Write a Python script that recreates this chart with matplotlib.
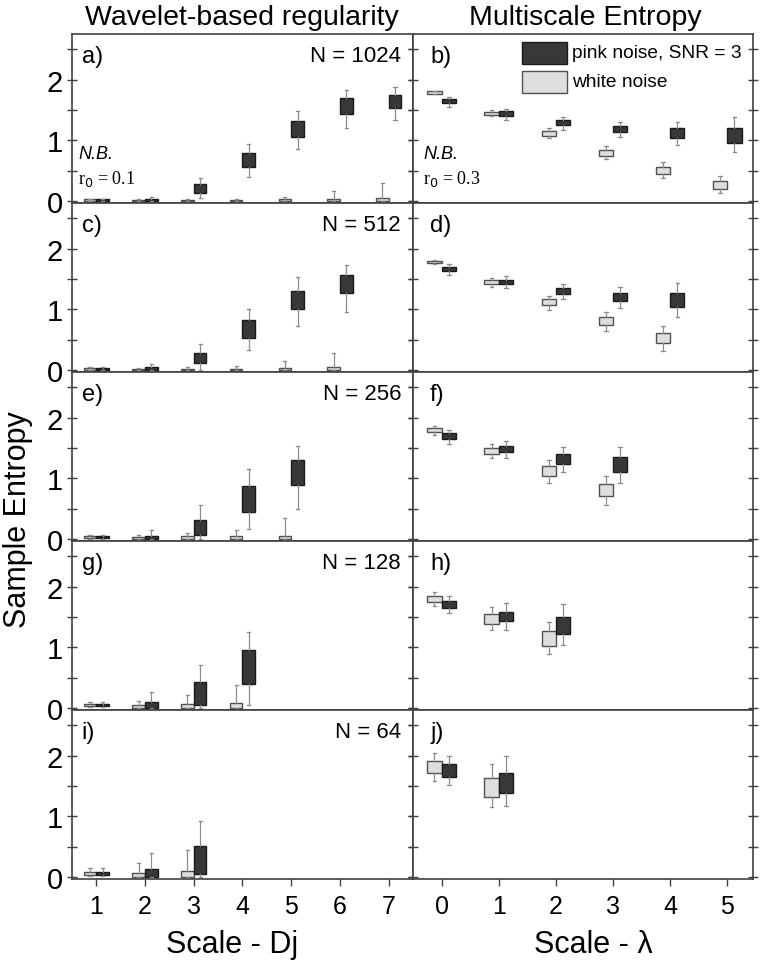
import matplotlib.pyplot as plt
from matplotlib.patches import Rectangle
from matplotlib.ticker import MultipleLocator

plt.rcParams['font.family'] = ['Liberation Sans', 'DejaVu Sans']

# skale
dj_scales = [1, 2, 3, 4, 5, 6, 7]
lam_scales = [0, 1, 2, 3, 4, 5]
n_labels = ['N = 1024', 'N = 512', 'N = 256', 'N = 128', 'N = 64']

# kazdy wiersz: [whislo, q1, q3, whishi]
wav_white_1024 = [[0.0, 0.01, 0.03, 0.04], [0.0, 0.005, 0.02, 0.03], [0.0, 0.005, 0.025, 0.035],
                  [0.0, 0.005, 0.025, 0.04], [0.0, 0.005, 0.03, 0.07], [0.0, 0.005, 0.03, 0.165],
                  [0.0, 0.005, 0.05, 0.30]]
wav_pink_1024 = [[0.0, 0.01, 0.03, 0.04], [0.0, 0.01, 0.03, 0.066], [0.055, 0.127, 0.275, 0.386],
                 [0.40, 0.567, 0.788, 0.937], [0.865, 1.06, 1.32, 1.49], [1.21, 1.43, 1.69, 1.83],
                 [1.33, 1.53, 1.75, 1.87]]
wav_white_512 = [[0.0, 0.01, 0.035, 0.045], [0.0, 0.005, 0.02, 0.03], [0.0, 0.005, 0.025, 0.045],
                 [0.0, 0.005, 0.025, 0.066], [0.0, 0.005, 0.04, 0.155], [0.0, 0.005, 0.045, 0.29]]
wav_pink_512 = [[0.0, 0.01, 0.035, 0.045], [0.0, 0.01, 0.045, 0.10], [0.01, 0.11, 0.287, 0.425],
                [0.33, 0.525, 0.82, 1.01], [0.73, 1.01, 1.31, 1.54], [0.955, 1.27, 1.57, 1.73]]
wav_white_256 = [[0.01, 0.02, 0.05, 0.065], [0.0, 0.005, 0.04, 0.07], [0.0, 0.005, 0.045, 0.10],
                 [0.0, 0.005, 0.05, 0.155], [0.0, 0.005, 0.06, 0.35]]
wav_pink_256 = [[0.01, 0.02, 0.05, 0.065], [0.0, 0.005, 0.06, 0.155], [0.0, 0.07, 0.32, 0.56],
                [0.165, 0.44, 0.87, 1.15], [0.49, 0.89, 1.30, 1.54]]
wav_white_128 = [[0.02, 0.03, 0.07, 0.10], [0.0, 0.005, 0.055, 0.115], [0.0, 0.005, 0.065, 0.21],
                 [0.0, 0.005, 0.085, 0.38]]
wav_pink_128 = [[0.02, 0.03, 0.065, 0.10], [0.0, 0.005, 0.095, 0.265], [0.0, 0.06, 0.425, 0.71],
                [0.055, 0.39, 0.95, 1.26]]
wav_white_64 = [[0.02, 0.035, 0.09, 0.15], [0.0, 0.005, 0.07, 0.24], [0.0, 0.005, 0.095, 0.445]]
wav_pink_64 = [[0.02, 0.04, 0.09, 0.15], [0.0, 0.005, 0.13, 0.39], [0.0, 0.045, 0.51, 0.93]]

mse_white_1024 = [[1.76, 1.77, 1.81, 1.82], [1.40, 1.41, 1.47, 1.50], [1.035, 1.07, 1.15, 1.20],
                  [0.69, 0.75, 0.85, 0.91], [0.377, 0.45, 0.565, 0.65], [0.127, 0.20, 0.33, 0.415]]
mse_pink_1024 = [[1.55, 1.61, 1.68, 1.71], [1.335, 1.40, 1.48, 1.51], [1.175, 1.25, 1.335, 1.38],
                 [1.06, 1.135, 1.235, 1.31], [0.925, 1.04, 1.20, 1.30], [0.81, 0.96, 1.21, 1.39]]
mse_white_512 = [[1.74, 1.76, 1.80, 1.82], [1.37, 1.41, 1.48, 1.52], [0.995, 1.066, 1.165, 1.225],
                 [0.643, 0.742, 0.874, 0.956], [0.313, 0.44, 0.604, 0.72]]
mse_pink_512 = [[1.57, 1.63, 1.70, 1.74], [1.35, 1.41, 1.49, 1.555], [1.165, 1.25, 1.36, 1.42],
                [1.016, 1.137, 1.275, 1.374], [0.88, 1.04, 1.264, 1.44]]
mse_white_256 = [[1.72, 1.76, 1.83, 1.86], [1.33, 1.405, 1.50, 1.57], [0.93, 1.045, 1.20, 1.30],
                 [0.56, 0.71, 0.905, 1.04]]
mse_pink_256 = [[1.57, 1.65, 1.74, 1.79], [1.33, 1.43, 1.54, 1.62], [1.11, 1.24, 1.405, 1.52],
                [0.92, 1.10, 1.355, 1.52]]
mse_white_128 = [[1.676, 1.74, 1.84, 1.91], [1.28, 1.38, 1.544, 1.66], [0.885, 1.02, 1.264, 1.41]]
mse_pink_128 = [[1.56, 1.65, 1.77, 1.85], [1.29, 1.43, 1.59, 1.725], [1.04, 1.225, 1.505, 1.71]]
mse_white_64 = [[1.576, 1.708, 1.906, 2.04], [1.15, 1.32, 1.63, 1.857]]
mse_pink_64 = [[1.51, 1.647, 1.857, 2.0], [1.168, 1.377, 1.708, 2.0]]

wav_rows = [(wav_white_1024, wav_pink_1024), (wav_white_512, wav_pink_512), (wav_white_256, wav_pink_256),
            (wav_white_128, wav_pink_128), (wav_white_64, wav_pink_64)]
mse_rows = [(mse_white_1024, mse_pink_1024), (mse_white_512, mse_pink_512), (mse_white_256, mse_pink_256),
            (mse_white_128, mse_pink_128), (mse_white_64, mse_pink_64)]

WHITE = '#dedede'
PINK = '#383838'
WHISK = '#8c8c8c'
SPINE = '#404040'


def stats(rows):
    return [dict(whislo=r[0], q1=r[1], med=(r[1] + r[2]) / 2, q3=r[2], whishi=r[3], fliers=[]) for r in rows]


def draw(ax, scales, rows, offset, width, face, edge):
    pos = [s + offset for s in scales[:len(rows)]]
    ax.bxp(stats(rows), positions=pos, widths=width, patch_artist=True, showfliers=False,
           manage_ticks=False, capwidths=width * 0.25,
           boxprops=dict(facecolor=face, edgecolor=edge, linewidth=1.0),
           whiskerprops=dict(color=WHISK, linewidth=0.9),
           capprops=dict(color=WHISK, linewidth=0.9),
           medianprops=dict(linewidth=0))


fig = plt.figure(figsize=(7.64, 9.70), dpi=100)
W, H = 764.0, 970.0
row_h = 169
letters = 'abcdefghij'

for i in range(5):
    top = 35 + i * row_h
    y0 = 1 - (top + row_h) / H
    for col in range(2):
        if col == 0:
            ax = fig.add_axes([72 / W, y0, 341 / W, row_h / H])
            white, pink = wav_rows[i]
            draw(ax, dj_scales, white, -0.13, 0.26, WHITE, '#505050')
            draw(ax, dj_scales, pink, 0.13, 0.26, PINK, '#1a1a1a')
            ax.set_xlim(0.5, 7.5)
            ax.set_xticks(dj_scales)
            ax.text(0.965, 0.87, n_labels[i], transform=ax.transAxes, ha='right', va='center', fontsize=16)
            lx = 0.028
        else:
            ax = fig.add_axes([413 / W, y0, 340 / W, row_h / H])
            white, pink = mse_rows[i]
            draw(ax, lam_scales, white, -0.125, 0.25, WHITE, '#505050')
            draw(ax, lam_scales, pink, 0.125, 0.25, PINK, '#1a1a1a')
            ax.set_xlim(-0.5, 5.45)
            ax.set_xticks(lam_scales)
            lx = 0.05
        ax.set_ylim(-0.03, 2.75)
        ax.yaxis.set_major_locator(MultipleLocator(1))
        ax.yaxis.set_minor_locator(MultipleLocator(0.5))
        for s in ax.spines.values():
            s.set_color(SPINE)
            s.set_linewidth(1.2)
        ax.tick_params(axis='x', direction='out', length=5, width=1, colors=SPINE,
                       labelcolor='black', labelbottom=(i == 4), labelsize=18, pad=6)
        ax.tick_params(axis='y', which='both', direction='inout', length=7, width=1, colors=SPINE,
                       labelcolor='black', left=True, right=True, labelleft=(col == 0), labelsize=21, pad=3)
        ax.text(lx, 0.87, letters[2 * i + col] + ')', transform=ax.transAxes, ha='left', va='center',
                fontsize=17)
        if i == 0:
            ax.text(0.018 if col == 0 else 0.03, 0.29, 'N.B.', transform=ax.transAxes, fontsize=13,
                    style='italic', va='center')
            ax.text(0.018 if col == 0 else 0.03, 0.15, r'r$_0$ = ' + ('0.1' if col == 0 else '0.3'),
                    transform=ax.transAxes, fontsize=13, va='center', family='Liberation Serif')
        if i == 0 and col == 1:
            ax.add_patch(Rectangle((0.32, 0.822), 0.133, 0.131, transform=ax.transAxes,
                                   facecolor=PINK, edgecolor='#1a1a1a', linewidth=1.0))
            ax.add_patch(Rectangle((0.32, 0.651), 0.133, 0.130, transform=ax.transAxes,
                                   facecolor=WHITE, edgecolor='#505050', linewidth=1.0))
            ax.text(0.468, 0.888, 'pink noise, SNR = 3', transform=ax.transAxes, va='center', fontsize=13.8)
            ax.text(0.468, 0.716, 'white noise', transform=ax.transAxes, va='center', fontsize=13.8)

fig.text(242 / W, 1 - 18 / H, 'Wavelet-based regularity', ha='center', va='center', fontsize=20.5)
fig.text(585 / W, 1 - 18 / H, 'Multiscale Entropy', ha='center', va='center', fontsize=20.5)
fig.text(18 / W, 1 - 520 / H, 'Sample Entropy', ha='center', va='center', rotation=90, fontsize=22)
fig.text(232 / W, 1 - 945 / H, 'Scale - Dj', ha='center', va='center', fontsize=22)
fig.text(593 / W, 1 - 945 / H, 'Scale - λ', ha='center', va='center', fontsize=22)

fig.savefig('out.png', dpi=100)
